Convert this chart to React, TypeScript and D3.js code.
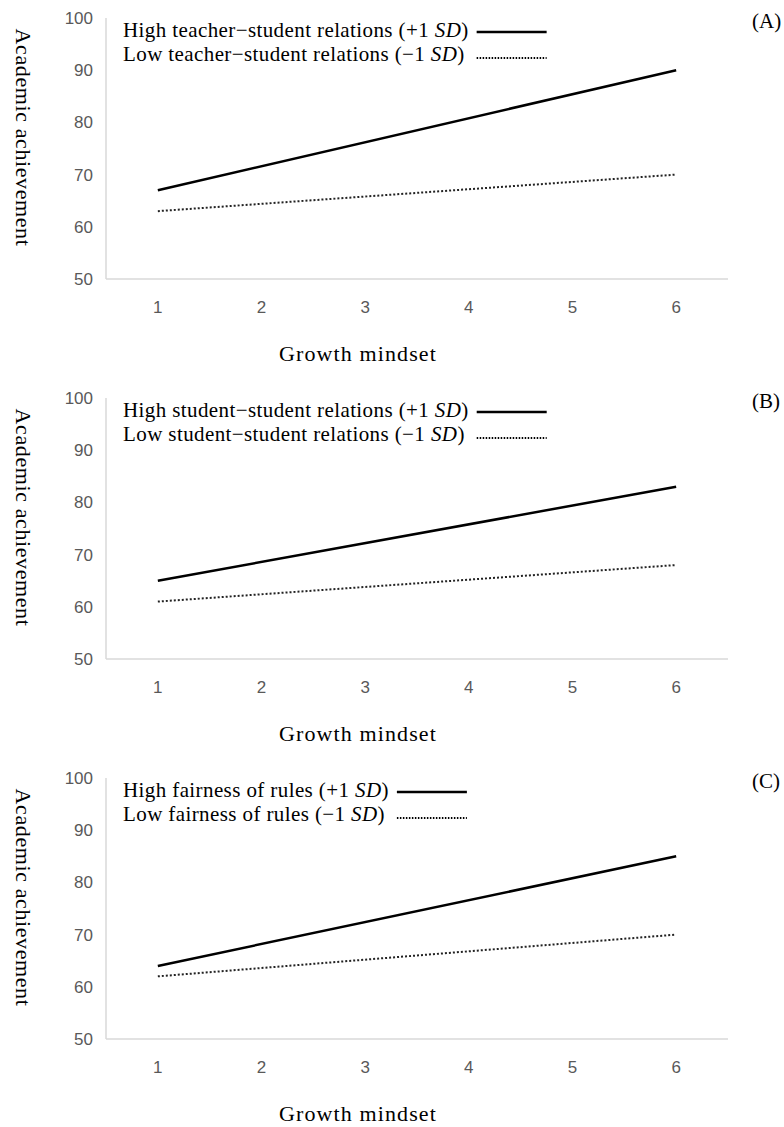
import React, { useEffect, useRef } from 'react';
import * as d3 from 'd3';

// Data (simple slopes at growth mindset 1 and 6)
const mindset = [1, 6];
const panelLabels = ['(A)', '(B)', '(C)'];
const highLabels = ['High teacher\u2212student relations', 'High student\u2212student relations', 'High fairness of rules'];
const lowLabels = ['Low teacher\u2212student relations', 'Low student\u2212student relations', 'Low fairness of rules'];
const highValues = [[67, 90], [65, 83], [64, 85]];
const lowValues = [[63, 70], [61, 68], [62, 70]];
const yTicks = [50, 60, 70, 80, 90, 100];
const xTicks = [1, 2, 3, 4, 5, 6];

const W = 784;
const H = 1127;
const SERIF = '"Liberation Serif", "Times New Roman", serif';
const SANS = '"Liberation Sans", Arial, sans-serif';

export default function App() {
    const svgRef = useRef<SVGSVGElement>(null);

    useEffect(() => {
        const svg = d3.select(svgRef.current);
        svg.selectAll('*').remove();

        const left = 106;
        const right = 728;
        const plotH = 261;
        const tops = [18, 398, 778];

        const x = d3.scaleLinear().domain([0.5, 6.5]).range([left, right]);

        tops.forEach((top, i) => {
            const y = d3.scaleLinear().domain([50, 100]).range([top + plotH, top]);
            const g = svg.append('g');

            // axes (light grey lines, no ticks)
            g.append('line')
                .attr('x1', left).attr('x2', left)
                .attr('y1', top).attr('y2', top + plotH)
                .attr('stroke', '#d9d9d9').attr('stroke-width', 1.5);
            g.append('line')
                .attr('x1', left).attr('x2', right)
                .attr('y1', top + plotH).attr('y2', top + plotH)
                .attr('stroke', '#d9d9d9').attr('stroke-width', 1.5);

            g.selectAll('.ytick')
                .data(yTicks)
                .enter()
                .append('text')
                .attr('x', 93)
                .attr('y', d => y(d))
                .attr('dy', '0.35em')
                .attr('text-anchor', 'end')
                .attr('font-family', SANS)
                .attr('font-size', 17)
                .attr('fill', '#595959')
                .text(d => d);

            g.selectAll('.xtick')
                .data(xTicks)
                .enter()
                .append('text')
                .attr('x', d => x(d))
                .attr('y', top + plotH + 28)
                .attr('dy', '0.35em')
                .attr('text-anchor', 'middle')
                .attr('font-family', SANS)
                .attr('font-size', 17)
                .attr('fill', '#595959')
                .text(d => d);

            // axis titles
            g.append('text')
                .attr('transform', `translate(16,${top + plotH / 2 - 11}) rotate(90)`)
                .attr('text-anchor', 'middle')
                .attr('font-family', SERIF)
                .attr('font-size', 22)
                .attr('letter-spacing', 0.6)
                .attr('fill', '#000')
                .text('Academic achievement');
            g.append('text')
                .attr('x', 358)
                .attr('y', top + plotH + 74)
                .attr('dy', '0.35em')
                .attr('text-anchor', 'middle')
                .attr('font-family', SERIF)
                .attr('font-size', 22)
                .attr('letter-spacing', 1.1)
                .attr('fill', '#000')
                .text('Growth mindset');

            g.append('text')
                .attr('x', 752)
                .attr('y', top + 3)
                .attr('dy', '0.35em')
                .attr('font-family', SERIF)
                .attr('font-size', 21)
                .text(panelLabels[i]);

            // lines
            const line = d3.line<[number, number]>()
                .x(d => x(d[0]))
                .y(d => y(d[1]));
            g.append('path')
                .datum(mindset.map((m, k) => [m, highValues[i][k]] as [number, number]))
                .attr('d', line)
                .attr('fill', 'none')
                .attr('stroke', '#000')
                .attr('stroke-width', 2.5);
            g.append('path')
                .datum(mindset.map((m, k) => [m, lowValues[i][k]] as [number, number]))
                .attr('d', line)
                .attr('fill', 'none')
                .attr('stroke', '#222')
                .attr('stroke-width', 2)
                .attr('stroke-dasharray', '2,2');

            // legend
            const rows = [
                { label: highLabels[i], sign: '+1 ', dash: null },
                { label: lowLabels[i], sign: '\u22121 ', dash: '1.5,1.5' },
            ];
            let maxW = 0;
            const texts = rows.map((r, k) => {
                const t = g.append('text')
                    .attr('x', 123)
                    .attr('y', top + 12 + k * 24)
                    .attr('dy', '0.35em')
                    .attr('font-family', SERIF)
                    .attr('font-size', 21)
                    .attr('letter-spacing', 0.4)
                    .attr('fill', '#000');
                t.append('tspan').text(`${r.label} (${r.sign}`);
                t.append('tspan').attr('font-style', 'italic').text('SD');
                t.append('tspan').text(')');
                const w = (t.node() as SVGTextElement).getComputedTextLength();
                maxW = Math.max(maxW, w);
                return t;
            });
            texts.forEach((t, k) => {
                const w = (t.node() as SVGTextElement).getComputedTextLength();
                const x0 = 123 + (k === 0 ? w : maxW) + 8;
                g.append('line')
                    .attr('x1', x0).attr('x2', x0 + 70)
                    .attr('y1', top + 14 + k * 26).attr('y2', top + 14 + k * 26)
                    .attr('stroke', '#000')
                    .attr('stroke-width', k === 0 ? 2.5 : 1.8)
                    .attr('stroke-dasharray', rows[k].dash);
            });
        });
    }, []);

    return (
        <svg
            ref={svgRef}
            width={W}
            height={H}
            style={{ position: 'absolute', left: 0, top: 0, background: '#fff' }}
        />
    );
}
